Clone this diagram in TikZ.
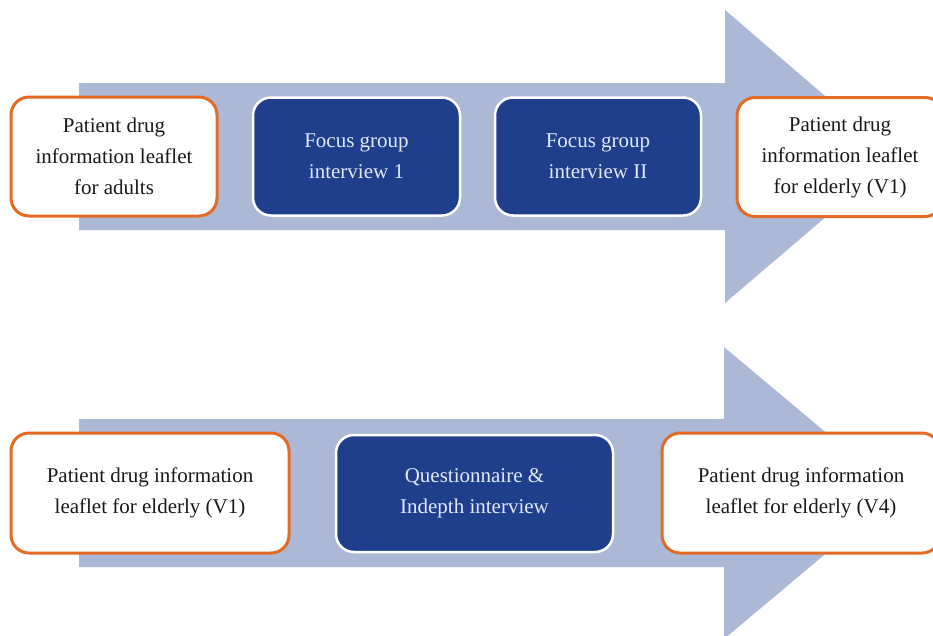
\documentclass[tikz,border=0pt]{standalone}
\usepackage{fontspec}
\setmainfont{Liberation Serif}
\definecolor{arrowfill}{RGB}{172,185,214}
\definecolor{navy}{RGB}{31,63,141}
\definecolor{orangeb}{RGB}{228,106,38}
\definecolor{lighttext}{RGB}{225,234,248}
\definecolor{darktext}{RGB}{25,25,25}
\tikzset{
  whitebox/.style={draw=orangeb, line width=3pt, fill=white, rounded corners=18pt,
    align=center, text=darktext, font=\fontsize{21}{31}\selectfont, inner sep=0pt},
  navybox/.style={draw=white, line width=2.5pt, fill=navy, rounded corners=18pt,
    align=center, text=lighttext, font=\fontsize{21}{31}\selectfont, inner sep=0pt},
}
\begin{document}
\begin{tikzpicture}[x=1pt,y=-1pt]
\useasboundingbox (0,0) rectangle (933,635);
\clip (0,0) rectangle (933,635);
% arrows
\fill[arrowfill] (79,83) -- (725,83) -- (725,10) -- (896,157) -- (725,303) -- (725,230) -- (79,230) -- cycle;
\fill[arrowfill] (79,419) -- (724,419) -- (724,347) -- (898,493) -- (724,639) -- (724,567) -- (79,567) -- cycle;
% top row
\node[whitebox, minimum width=206pt, minimum height=119pt] (a1) at (114,156.5) {Patient drug\\information leaflet\\for adults};
\node[navybox, minimum width=207pt, minimum height=118pt] (a2) at (356.5,156.5) {Focus group\\interview 1};
\node[navybox, minimum width=206pt, minimum height=118pt] (a3) at (598,156.5) {Focus group\\interview II};
\node[whitebox, minimum width=206pt, minimum height=119pt] (a4) at (840,157) {Patient drug\\information leaflet\\for elderly (V1)};
% bottom row
\node[whitebox, minimum width=278pt, minimum height=120pt] (b1) at (150,493) {Patient drug information\\leaflet for elderly (V1)};
\node[navybox, minimum width=277pt, minimum height=117pt] (b2) at (474.5,493.5) {Questionnaire \&\\Indepth interview};
\node[whitebox, minimum width=278pt, minimum height=120pt] (b3) at (801,493) {Patient drug information\\leaflet for elderly (V4)};
\end{tikzpicture}
\end{document}
